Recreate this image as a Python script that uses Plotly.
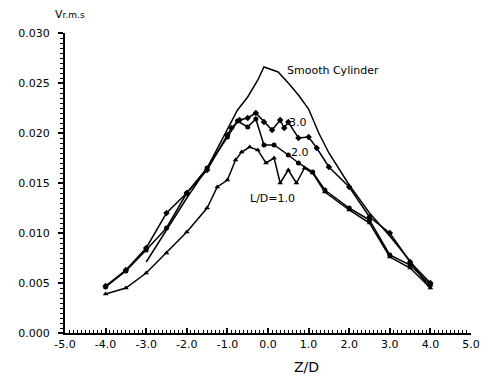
import plotly.graph_objects as go

# Smooth cylinder (no markers)
x_smooth = [-3.0, -2.5, -2.0, -1.5, -1.0, -0.75, -0.5, -0.25, -0.1, 0.15, 0.25, 0.5, 0.75, 1.0, 1.25, 1.5, 2.0, 2.5, 3.0, 3.5, 4.0]
v_smooth = [0.0071, 0.0103, 0.0135, 0.0165, 0.0203, 0.0223, 0.0236, 0.0253, 0.0266, 0.0262, 0.0261, 0.0250, 0.0238, 0.0224, 0.0200, 0.0180, 0.0148, 0.0120, 0.0097, 0.0072, 0.0044]

# L/D = 3.0
x_30 = [-4.0, -3.5, -3.0, -2.5, -2.0, -1.5, -1.0, -0.9, -0.7, -0.5, -0.3, -0.1, 0.1, 0.3, 0.4, 0.5, 0.75, 1.0, 1.2, 1.5, 2.0, 2.5, 3.0, 3.5, 4.0]
v_30 = [0.0047, 0.0063, 0.0085, 0.0120, 0.0140, 0.0163, 0.0198, 0.0205, 0.0213, 0.0215, 0.0220, 0.0211, 0.0203, 0.0213, 0.0205, 0.0211, 0.0195, 0.0196, 0.0185, 0.0166, 0.0146, 0.0116, 0.0100, 0.0071, 0.0050]

# L/D = 2.0
x_20 = [-4.0, -3.5, -3.0, -2.5, -2.0, -1.5, -1.0, -0.75, -0.5, -0.3, -0.1, 0.15, 0.5, 0.75, 1.1, 1.4, 2.0, 2.5, 3.0, 3.5, 4.0]
v_20 = [0.0046, 0.0062, 0.0083, 0.0105, 0.0140, 0.0165, 0.0196, 0.0212, 0.0206, 0.0214, 0.0188, 0.0188, 0.0178, 0.0170, 0.0161, 0.0143, 0.0125, 0.0113, 0.0078, 0.0068, 0.0048]

# L/D = 1.0
x_10 = [-4.0, -3.5, -3.0, -2.5, -2.0, -1.5, -1.25, -1.0, -0.8, -0.65, -0.45, -0.25, -0.05, 0.15, 0.3, 0.5, 0.7, 0.9, 1.1, 1.4, 2.0, 2.5, 3.0, 3.5, 4.0]
v_10 = [0.0039, 0.0045, 0.0060, 0.0080, 0.0101, 0.0125, 0.0146, 0.0153, 0.0173, 0.0181, 0.0186, 0.0183, 0.0170, 0.0175, 0.0150, 0.0163, 0.0150, 0.0165, 0.0160, 0.0141, 0.0123, 0.0110, 0.0076, 0.0065, 0.0045]

x_ticks = [-5.0, -4.0, -3.0, -2.0, -1.0, 0.0, 1.0, 2.0, 3.0, 4.0, 5.0]
y_ticks = [0.000, 0.005, 0.010, 0.015, 0.020, 0.025, 0.030]

FONT = "DejaVu Sans"

fig = go.Figure()
fig.add_trace(go.Scatter(x=x_smooth, y=v_smooth, mode="lines",
                         line=dict(color="black", width=1.5), showlegend=False))
fig.add_trace(go.Scatter(x=x_30, y=v_30, mode="lines+markers",
                         line=dict(color="black", width=1.5),
                         marker=dict(symbol="diamond", size=5, color="black"), showlegend=False))
fig.add_trace(go.Scatter(x=x_20, y=v_20, mode="lines+markers",
                         line=dict(color="black", width=1.5),
                         marker=dict(symbol="circle", size=5, color="black"), showlegend=False))
fig.add_trace(go.Scatter(x=x_10, y=v_10, mode="lines+markers",
                         line=dict(color="black", width=1.5),
                         marker=dict(symbol="triangle-up", size=5, color="black"), showlegend=False))

ann_font = dict(family=FONT, size=11, color="black")
fig.add_annotation(x=0.43, y=0.0263, text="Smooth Cylinder", showarrow=False,
                   xanchor="left", yanchor="middle", font=ann_font)
fig.add_annotation(x=0.74, y=0.0211, text="3.0", showarrow=False,
                   xanchor="center", yanchor="middle", font=ann_font)
fig.add_annotation(x=0.8, y=0.0181, text="2.0", showarrow=False,
                   xanchor="center", yanchor="middle", font=ann_font)
fig.add_annotation(x=0.1, y=0.0135, text="L/D=1.0", showarrow=False,
                   xanchor="center", yanchor="middle", font=ann_font)
fig.add_annotation(x=-0.029, y=1.06, xref="paper", yref="paper",
                   text="V<span style='font-size:9px'>r.m.s</span>", showarrow=False,
                   xanchor="left", yanchor="middle", font=dict(family=FONT, size=11, color="black"))
fig.add_annotation(x=0.94, y=-0.113, xref="x", yref="paper", text="Z/D", showarrow=False,
                   xanchor="center", yanchor="middle", font=dict(family=FONT, size=14, color="black"))

fig.update_xaxes(range=[-5.0, 5.0], tickvals=x_ticks, ticktext=[f"{v:.1f}" for v in x_ticks],
                 showgrid=False, zeroline=False, showline=True, linecolor="black", linewidth=2,
                 ticks="inside", ticklen=5, tickwidth=1.5, tickcolor="black",
                 ticklabeloverflow="allow",
                 minor=dict(dtick=0.1, ticks="inside", ticklen=3, tickcolor="black", tickwidth=1),
                 tickfont=dict(family=FONT, size=11, color="black"))
fig.update_yaxes(range=[0.0, 0.030], tickvals=y_ticks, ticktext=[f"{v:.3f}" for v in y_ticks],
                 showgrid=False, zeroline=False, showline=True, linecolor="black", linewidth=2,
                 ticks="outside", ticklen=5, tickwidth=1.5, tickcolor="black",
                 ticklabelstandoff=6,
                 minor=dict(dtick=0.0005, ticks="outside", ticklen=3, tickcolor="black", tickwidth=1),
                 tickfont=dict(family=FONT, size=11, color="black"))

fig.update_layout(width=489, height=380, margin=dict(l=65, r=9, t=33, b=47),
                  paper_bgcolor="white", plot_bgcolor="white")

fig.write_html("out.html")
